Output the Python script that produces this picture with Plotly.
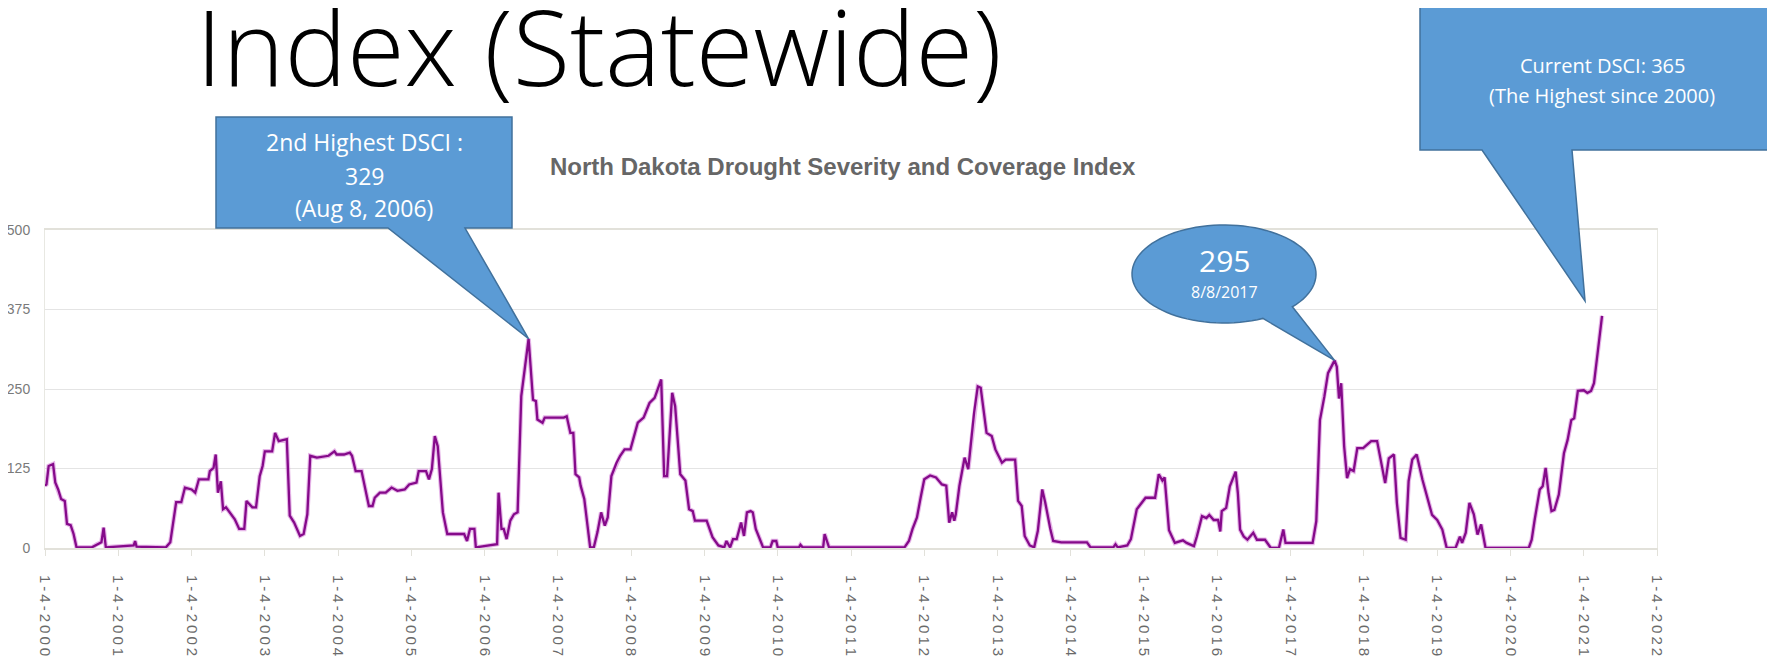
import math

import plotly.graph_objects as go

# North Dakota DSCI (decimal year, index value)
years = [
    2000.00, 2000.02, 2000.05, 2000.11, 2000.14, 2000.18, 2000.22, 2000.27, 2000.30, 2000.35,
    2000.39, 2000.43, 2000.64, 2000.71, 2000.77, 2000.80, 2000.83, 2001.21, 2001.23, 2001.25,
    2001.65, 2001.71, 2001.79, 2001.86, 2001.91, 2002.00, 2002.05, 2002.10, 2002.23, 2002.25,
    2002.30, 2002.33, 2002.36, 2002.40, 2002.43, 2002.47, 2002.52, 2002.59, 2002.65, 2002.72,
    2002.75, 2002.83, 2002.88, 2002.93, 2002.97, 2003.00, 2003.10, 2003.14, 2003.19, 2003.30,
    2003.34, 2003.40, 2003.48, 2003.53, 2003.58, 2003.62, 2003.71, 2003.87, 2003.95, 2003.98,
    2004.08, 2004.16, 2004.19, 2004.24, 2004.32, 2004.42, 2004.47, 2004.50, 2004.57, 2004.65,
    2004.73, 2004.81, 2004.91, 2004.97, 2005.07, 2005.10, 2005.20, 2005.24, 2005.28, 2005.32,
    2005.36, 2005.38, 2005.43, 2005.49, 2005.72, 2005.76, 2005.80, 2005.86, 2005.88, 2006.06,
    2006.17, 2006.19, 2006.23, 2006.26, 2006.30, 2006.35, 2006.40, 2006.45, 2006.50, 2006.60,
    2006.66, 2006.70, 2006.72, 2006.79, 2006.82, 2007.08, 2007.12, 2007.17, 2007.21, 2007.24,
    2007.29, 2007.31, 2007.36, 2007.44, 2007.49, 2007.54, 2007.59, 2007.64, 2007.68, 2007.73,
    2007.80, 2007.85, 2007.91, 2007.99, 2008.04, 2008.09, 2008.17, 2008.25, 2008.32, 2008.38,
    2008.41, 2008.45, 2008.49, 2008.56, 2008.60, 2008.67, 2008.74, 2008.79, 2008.84, 2008.87,
    2009.03, 2009.11, 2009.19, 2009.27, 2009.30, 2009.35, 2009.39, 2009.44, 2009.50, 2009.54,
    2009.58, 2009.63, 2009.66, 2009.70, 2009.76, 2009.80, 2009.90, 2009.93, 2009.98, 2010.00,
    2010.29, 2010.31, 2010.34, 2010.62, 2010.64, 2010.70, 2011.73, 2011.79, 2011.84, 2011.90,
    2011.95, 2012.00, 2012.08, 2012.16, 2012.24, 2012.30, 2012.34, 2012.38, 2012.41, 2012.43,
    2012.48, 2012.55, 2012.60, 2012.68, 2012.73, 2012.77, 2012.85, 2012.92, 2012.97, 2013.01,
    2013.06, 2013.11, 2013.24, 2013.28, 2013.33, 2013.37, 2013.44, 2013.50, 2013.55, 2013.61,
    2013.65, 2013.72, 2013.76, 2013.87, 2014.22, 2014.27, 2014.58, 2014.61, 2014.64, 2014.77,
    2014.82, 2014.90, 2014.97, 2015.02, 2015.15, 2015.20, 2015.25, 2015.28, 2015.34, 2015.42,
    2015.53, 2015.58, 2015.68, 2015.72, 2015.79, 2015.85, 2015.89, 2015.95, 2016.01, 2016.04,
    2016.06, 2016.12, 2016.17, 2016.25, 2016.28, 2016.31, 2016.36, 2016.41, 2016.49, 2016.54,
    2016.65, 2016.73, 2016.84, 2016.90, 2016.93, 2017.30, 2017.35, 2017.40, 2017.46, 2017.51,
    2017.60, 2017.63, 2017.66, 2017.69, 2017.73, 2017.77, 2017.81, 2017.86, 2017.91, 2017.99,
    2018.04, 2018.10, 2018.18, 2018.24, 2018.29, 2018.34, 2018.41, 2018.45, 2018.50, 2018.57,
    2018.61, 2018.66, 2018.72, 2018.80, 2018.88, 2018.93, 2019.00, 2019.07, 2019.13, 2019.25,
    2019.31, 2019.34, 2019.39, 2019.44, 2019.50, 2019.55, 2019.60, 2019.66, 2020.25, 2020.29,
    2020.33, 2020.40, 2020.44, 2020.48, 2020.52, 2020.56, 2020.60, 2020.66, 2020.73, 2020.78,
    2020.83, 2020.87, 2020.92, 2021.00, 2021.05, 2021.10, 2021.14, 2021.20, 2021.25,
]
dsci = [
    98, 100, 129, 132, 103, 92, 77, 74, 38, 36,
    22, 1, 1, 6, 9, 32, 1, 4, 11, 2,
    1, 9, 72, 72, 95, 92, 87, 108, 108, 121,
    126, 147, 87, 105, 61, 64, 56, 45, 30, 30,
    74, 64, 64, 113, 129, 152, 152, 181, 168, 171,
    51, 40, 19, 22, 53, 145, 142, 145, 152, 147,
    147, 150, 145, 121, 121, 66, 66, 79, 87, 87,
    95, 90, 92, 100, 103, 121, 121, 108, 124, 176,
    160, 134, 56, 22, 22, 11, 30, 30, 1, 4,
    6, 87, 30, 30, 14, 43, 53, 56, 239, 329,
    233, 231, 202, 197, 205, 205, 207, 181, 181, 116,
    111, 98, 77, 1, 1, 25, 56, 35, 48, 113,
    134, 145, 155, 155, 176, 197, 205, 228, 236, 257,
    265, 113, 113, 244, 223, 116, 106, 61, 58, 43,
    43, 17, 4, 1, 11, 1, 14, 14, 40, 19,
    56, 58, 56, 30, 14, 1, 1, 11, 11, 1,
    1, 5, 1, 1, 22, 1, 1, 11, 30, 48,
    79, 108, 114, 111, 100, 98, 40, 56, 43, 53,
    98, 142, 124, 213, 254, 252, 181, 176, 155, 145,
    134, 139, 139, 74, 66, 19, 4, 1, 27, 92,
    72, 30, 11, 9, 9, 1, 1, 6, 1, 4,
    14, 61, 72, 79, 79, 116, 106, 111, 28, 8,
    12, 8, 3, 18, 50, 47, 52, 44, 44, 26,
    58, 63, 97, 120, 86, 29, 18, 13, 24, 13,
    13, 0, 0, 29, 8, 8, 42, 201, 238, 275,
    295, 285, 235, 259, 160, 110, 124, 121, 157, 157,
    162, 168, 168, 133, 102, 141, 147, 71, 16, 13,
    105, 139, 147, 107, 71, 52, 44, 29, 0, 0,
    18, 8, 24, 71, 53, 21, 37, 0, 0, 13,
    44, 92, 97, 126, 86, 58, 60, 84, 149, 170,
    201, 204, 247, 248, 244, 247, 259, 316, 365,
]

tick_years = list(range(2000, 2023))
tick_labels = ["\u2009".join(f"1-4-{y}") for y in tick_years]
y_ticks = [0, 125, 250, 375, 500]

slide_title = "Index (Statewide)"
chart_title = "North Dakota Drought Severity and Coverage Index"
peak_2006 = (2006.60, 329)
peak_2017 = (2017.60, 295)
callout_2006 = ["2nd Highest DSCI :", "329", "(Aug 8, 2006)"]
callout_2017 = ["295", "8/8/2017"]
callout_now = ["Current DSCI: 365", "(The Highest since 2000)"]

# page geometry in window pixels; the page body adds an 8px margin
PAGE_W, PAGE_H, OFF = 1775, 659, 8
L, R, T, B = 45, 1657, 230, 548
X0, X1, Y0, Y1 = 2000, 2022, 0, 500
FILL, EDGE = "#5b9bd5", "#41719c"


def paper(px, py):
    return (px - L) / (R - L), (B - py) / (B - T)


def data_px(x, y):
    return L + (x - X0) / (X1 - X0) * (R - L), B - (y - Y0) / (Y1 - Y0) * (B - T)


def path_from(points):
    pts = [paper(x, y) for x, y in points]
    return "M " + " L ".join(f"{x:.5f},{y:.5f}" for x, y in pts) + " Z"


fig = go.Figure()
fig.add_trace(go.Scatter(
    x=years, y=dsci, mode="lines",
    line=dict(color="#d27ad6", width=4.5), opacity=0.55, hoverinfo="skip",
))
fig.add_trace(go.Scatter(
    x=years, y=dsci, mode="lines",
    line=dict(color="#850a8a", width=2.3),
))

shapes = []
annotations = []

# rectangular callout for the 2006 peak
tip = data_px(*peak_2006)
shapes.append(dict(
    type="path", xref="paper", yref="paper", layer="above",
    path=path_from([(216, 117), (512, 117), (512, 228), (465, 228), tip, (388, 228), (216, 228)]),
    fillcolor=FILL, line=dict(color=EDGE, width=1.5),
))
for text, py in zip(callout_2006, [142, 176, 208]):
    px_, py_ = paper(364, py)
    annotations.append(dict(x=px_, y=py_, text=text))

# oval callout for the 2017 peak
cx, cy, rx, ry = 1224, 274, 92, 49
a_start, a_end = math.radians(42), math.radians(65)
tip = data_px(*peak_2017)
oval = [(cx + rx * math.cos(a_start), cy + ry * math.sin(a_start)), tip,
        (cx + rx * math.cos(a_end), cy + ry * math.sin(a_end))]
n = 90
for i in range(1, n):
    a = a_end + (2 * math.pi - (a_end - a_start)) * i / n
    oval.append((cx + rx * math.cos(a), cy + ry * math.sin(a)))
shapes.append(dict(
    type="path", xref="paper", yref="paper", layer="above",
    path=path_from(oval), fillcolor=FILL, line=dict(color=EDGE, width=1.5),
))
for text, py, size in zip(callout_2017, [260, 292], [30, 16]):
    px_, py_ = paper(cx, py)
    annotations.append(dict(x=px_, y=py_, text=text, font=dict(size=size)))

# rectangular callout for the latest value
ex, ey = data_px(years[-1], dsci[-1])
tip = (ex - 17, ey - 15)
shapes.append(dict(
    type="path", xref="paper", yref="paper", layer="above",
    path=path_from([(1420, 7), (1790, 7), (1790, 150), (1572, 150), tip, (1482, 150), (1420, 150)]),
    fillcolor=FILL, line=dict(color=EDGE, width=1.5),
))
for text, py in zip(callout_now, [66, 95]):
    px_, py_ = paper(1602, py)
    annotations.append(dict(x=px_, y=py_, text=text, font=dict(size=20)))

for a in annotations:
    a.update(xref="paper", yref="paper", showarrow=False, xanchor="center", yanchor="middle")
    font = dict(family="Open Sans, sans-serif", size=23, color="white")
    font.update(a.get("font", {}))
    a["font"] = font

tx, ty = paper(194, 46)
annotations.append(dict(
    x=tx, y=ty, xref="paper", yref="paper", showarrow=False, xanchor="left", yanchor="middle",
    text=slide_title,
    font=dict(family="Open Sans, Noto Sans, sans-serif", size=105, color="black", weight=300),
))
tx, ty = paper(843, 167)
annotations.append(dict(
    x=tx, y=ty, xref="paper", yref="paper", showarrow=False, xanchor="center", yanchor="middle",
    text=chart_title,
    font=dict(family="Liberation Sans Narrow, Arial Narrow, sans-serif", size=24,
              color="#666666", weight="bold"),
))

fig.update_layout(
    width=PAGE_W - OFF, height=PAGE_H - OFF,
    margin=dict(l=L - OFF, r=PAGE_W - R, t=T - OFF, b=PAGE_H - B, autoexpand=False),
    paper_bgcolor="white", plot_bgcolor="white",
    showlegend=False,
    shapes=shapes, annotations=annotations,
    xaxis=dict(
        range=[X0, X1], tickvals=tick_years, ticktext=tick_labels, tickangle=90,
        showgrid=False, zeroline=False, showline=True, linecolor="#e2e1da", linewidth=2,
        mirror=True, ticks="outside", ticklen=6, tickcolor="#e2e1da", automargin=False,
        tickfont=dict(family="Liberation Sans, Arial, sans-serif", size=15, color="#6a6a6a"),
        ticklabelstandoff=16,
    ),
    yaxis=dict(
        range=[Y0, Y1], tickvals=y_ticks, showgrid=True, gridcolor="#e4e4e4", gridwidth=1,
        zeroline=False, showline=True, linecolor="#e8e8e2", mirror=True, ticks="",
        automargin=False,
        tickfont=dict(family="Liberation Sans Narrow, Arial Narrow, sans-serif", size=14, color="#7a7a7a"),
        ticklabelstandoff=11,
    ),
)

fig.write_html("out.html")
